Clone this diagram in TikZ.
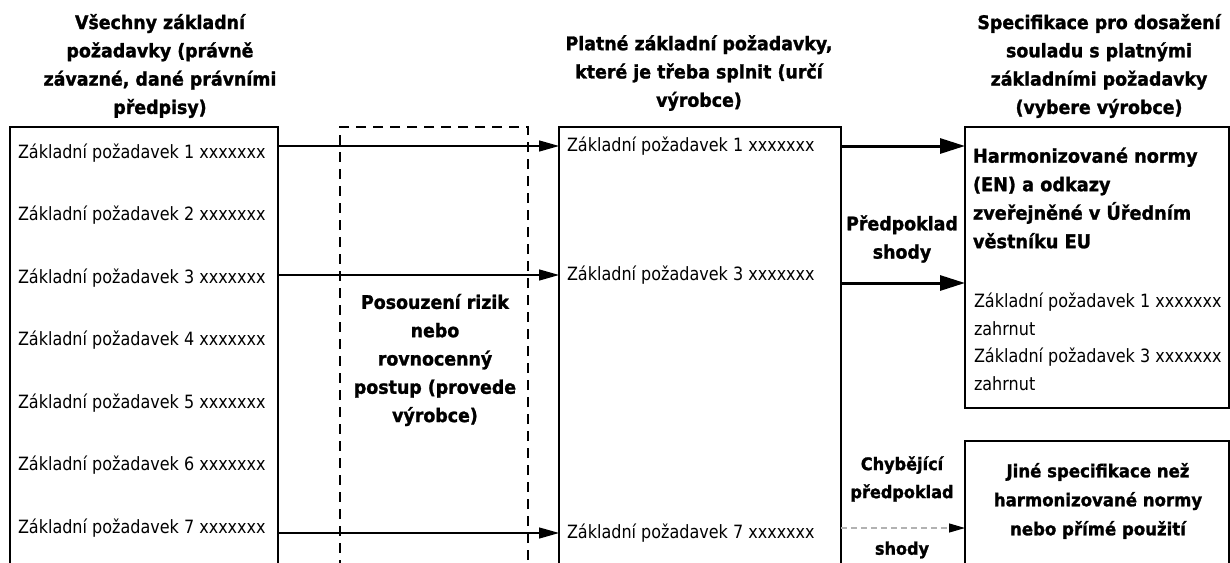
\documentclass[tikz,border=0pt]{standalone}
\usepackage{fontspec}
\setmainfont{DejaVu Sans}
\newfontfamily\reqfont[FakeStretch=0.875]{DejaVu Sans}
\newfontfamily\headfont[FakeStretch=0.93, FakeBold=1.4, UprightFont={* Bold}]{DejaVu Sans}
\usetikzlibrary{arrows.meta}

\begin{document}
\begin{tikzpicture}[x=1pt, y=-1pt, inner sep=0, outer sep=0,
    colbox/.style={rectangle, draw=black, line width=1.4pt, anchor=north west},
    reqtext/.style={anchor=west, align=left, font=\reqfont\fontsize{18.3}{27.5}\selectfont},
    headtext/.style={align=center, font=\headfont\fontsize{18.7}{28.3}\selectfont},
    thin arrow/.style={-{Triangle[length=20pt, width=11pt]}, line width=1.3pt},
    thick arrow/.style={-{Triangle[length=25pt, width=15pt]}, line width=3pt},
    missing arrow/.style={-{Triangle[length=16pt, width=9pt, color=black]}, draw=gray!60, dash pattern=on 6pt off 4pt, line width=1.2pt}]

  \useasboundingbox (0,0) rectangle (1230,562);
  \clip (0,0) rectangle (1230,562);

  % columns
  \node[colbox, minimum width=268pt, minimum height=500pt] (allbox) at (10,127) {};
  \node[colbox, dash pattern=on 10pt off 7pt, minimum width=188pt, minimum height=500pt] (riskbox) at (340,127) {};
  \node[colbox, minimum width=282pt, minimum height=500pt] (validbox) at (559,127) {};
  \node[colbox, minimum width=264pt, minimum height=281pt] (harmbox) at (965,127) {};
  \node[colbox, minimum width=264pt, minimum height=200pt] (otherbox) at (965,441) {};

  % headings
  \node[headtext] (allhead) at (160,66) {Všechny základní\\požadavky (právně\\závazné, dané právními\\předpisy)};
  \node[headtext] (validhead) at (699,73) {Platné základní požadavky,\\které je třeba splnit (určí\\výrobce)};
  \node[headtext] (spechead) at (1099,66) {Specifikace pro dosažení\\souladu s platnými\\základními požadavky\\(vybere výrobce)};

  % all requirements
  \node[reqtext] (all1) at (18,153) {Základní požadavek 1 xxxxxxx};
  \node[reqtext] (all2) at (18,215.5) {Základní požadavek 2 xxxxxxx};
  \node[reqtext] (all3) at (18,278) {Základní požadavek 3 xxxxxxx};
  \node[reqtext] (all4) at (18,340.5) {Základní požadavek 4 xxxxxxx};
  \node[reqtext] (all5) at (18,403) {Základní požadavek 5 xxxxxxx};
  \node[reqtext] (all6) at (18,465.5) {Základní požadavek 6 xxxxxxx};
  \node[reqtext] (all7) at (18,528) {Základní požadavek 7 xxxxxxx};

  % risk assessment
  \node[headtext] (risktext) at (435,360) {Posouzení rizik\\nebo\\rovnocenný\\postup (provede\\výrobce)};

  % valid requirements
  \node[reqtext] (valid1) at (567,146) {Základní požadavek 1 xxxxxxx};
  \node[reqtext] (valid3) at (567,275) {Základní požadavek 3 xxxxxxx};
  \node[reqtext] (valid7) at (567,533) {Základní požadavek 7 xxxxxxx};
  \draw[thin arrow] (allbox.east |- valid1.west) -- (validbox.west |- valid1.west);
  \draw[thin arrow] (allbox.east |- valid3.west) -- (validbox.west |- valid3.west);
  \draw[thin arrow] (allbox.east |- valid7.west) -- (validbox.west |- valid7.west);

  % harmonised standards
  \node[headtext, anchor=west, align=left, font=\headfont\fontsize{19}{28.5}\selectfont] (harmtext) at (973,198) {Harmonizované normy\\(EN) a odkazy\\zveřejněné v Úředním\\věstníku EU};
  \node[reqtext] (harmreq) at (974,342) {Základní požadavek 1 xxxxxxx\\zahrnut\\Základní požadavek 3 xxxxxxx\\zahrnut};
  \coordinate (harmin1) at (harmbox.west |- valid1.west);
  \coordinate (harmin3) at (harmbox.west |- valid3.west);
  \draw[thick arrow] (validbox.east |- harmin1) -- (harmin1);
  \draw[thick arrow] ([yshift=-8pt]validbox.east |- harmin3) -- ([yshift=-8pt]harmin3);
  \node[headtext] (presum) at (902,239) {Předpoklad\\shody};

  % other specifications
  \node[headtext, font=\headfont\fontsize{17.8}{29}\selectfont] (othertext) at (1098,501) {Jiné specifikace než\\harmonizované normy\\nebo přímé použití};
  \node[headtext, font=\headfont\fontsize{17.3}{28}\selectfont] (nopresum) at (902,479) {Chybějící\\předpoklad};
  \node[headtext, font=\headfont\fontsize{17.3}{28}\selectfont] (nopresumb) at (902,550) {shody};
  \draw[missing arrow] ([yshift=5pt]validbox.east |- valid7.west) -- ([yshift=5pt]otherbox.west |- valid7.west);
\end{tikzpicture}
\end{document}
